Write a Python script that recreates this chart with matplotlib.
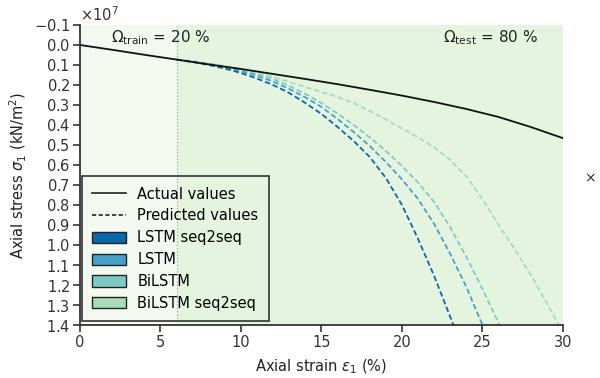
import numpy as np
import matplotlib
matplotlib.use("Agg")
import matplotlib.pyplot as plt
from matplotlib.lines import Line2D
from matplotlib.patches import Patch
from matplotlib.ticker import ScalarFormatter

plt.rcParams['font.family'] = ['DejaVu Sans']
plt.rcParams['mathtext.fontset'] = 'dejavusans'

# ---- data (stress in kN/m^2, x1e7) ----
strain_actual = [0, 2, 4, 6, 8, 10, 12, 14, 16, 18, 20, 22, 24, 26, 28, 30]
stress_actual = [0.0, 0.024, 0.049, 0.073, 0.097, 0.120, 0.145, 0.170, 0.196,
                 0.224, 0.253, 0.285, 0.320, 0.360, 0.410, 0.466]

strain_pred = [6, 7, 8, 9, 10, 11, 12, 13, 14, 15, 16, 17, 18, 19, 20, 21, 22,
               23, 24, 25, 26, 27, 28, 29, 30]
lstm_s2s = [0.073, 0.085, 0.100, 0.118, 0.140, 0.168, 0.200, 0.240, 0.290,
            0.345, 0.410, 0.480, 0.560, 0.665, 0.800, 0.970, 1.155, 1.360, 1.570]
lstm = [0.073, 0.083, 0.096, 0.112, 0.131, 0.155, 0.183, 0.220, 0.262, 0.310,
        0.370, 0.435, 0.505, 0.585, 0.672, 0.770, 0.895, 1.045, 1.210, 1.400, 1.600]
bilstm = [0.073, 0.082, 0.094, 0.108, 0.125, 0.146, 0.170, 0.205, 0.245, 0.290,
          0.343, 0.400, 0.462, 0.530, 0.605, 0.688, 0.785, 0.912, 1.060, 1.220,
          1.390, 1.570]
bilstm_s2s = [0.073, 0.082, 0.093, 0.105, 0.119, 0.138, 0.160, 0.185, 0.210,
              0.235, 0.260, 0.290, 0.330, 0.372, 0.418, 0.462, 0.512, 0.575,
              0.658, 0.770, 0.900, 1.020, 1.150, 1.290, 1.440]

model_names = ['LSTM seq2seq', 'LSTM', 'BiLSTM', 'BiLSTM seq2seq']
model_values = [lstm_s2s, lstm, bilstm, bilstm_s2s]
model_colors = ['#0868ac', '#43a2ca', '#7bccc4', '#a8ddb5']

train_end = 6
x_max = 30
scale = 1e7

fig = plt.figure(figsize=(6.0, 3.78), dpi=100)
ax = fig.add_axes([0.1333, 0.1402, 0.805, 0.7937])

ax.axvspan(0, train_end, color='#f4f9f0', zorder=0, lw=0)
ax.axvspan(train_end, x_max, color='#e4f4df', zorder=0, lw=0)
ax.axvline(train_end, color='#aaaaaa', lw=0.9, ls=':', zorder=1)

for vals, col in zip(model_values[::-1], model_colors[::-1]):
    ax.plot(strain_pred[:len(vals)], np.array(vals) * scale, color=col, lw=1.3,
            dashes=(3, 1.6), zorder=2)
ax.plot(strain_actual, np.array(stress_actual) * scale, color='#111111', lw=1.3, zorder=3)

ax.set_xlim(0, x_max)
ax.set_ylim(1.4e7, -0.1e7)
ax.set_yticks(np.arange(-0.1, 1.41, 0.1) * scale)
ax.set_xticks([0, 5, 10, 15, 20, 25, 30])
fmt = ScalarFormatter(useMathText=True)
fmt.set_powerlimits((0, 0))
ax.yaxis.set_major_formatter(fmt)

for s in ['top', 'right']:
    ax.spines[s].set_visible(False)
for s in ['left', 'bottom']:
    ax.spines[s].set_color('#333333')
    ax.spines[s].set_linewidth(1.3)
ax.tick_params(colors='#333333', labelsize=10.5, width=1.2, length=5, pad=2)
ax.yaxis.get_offset_text().set_fontsize(10.5)
ax.yaxis.get_offset_text().set_color('#333333')

ax.set_xlabel(r'Axial strain $\varepsilon_1$ (%)', fontsize=10.5, color='#222222',
              labelpad=6)
ax.set_ylabel(r'Axial stress $\sigma_1$ (kN/m$^2$)', fontsize=10.5, color='#222222')

ax.text(5.0, -0.035e7, r'$\Omega_{\mathrm{train}}$ = 20 %', ha='center', va='center',
        fontsize=11, color='#222222')
ax.text(25.5, -0.035e7, r'$\Omega_{\mathrm{test}}$ = 80 %', ha='center', va='center',
        fontsize=11, color='#222222')

handles = [Line2D([], [], color='#222222', lw=1.2),
           Line2D([], [], color='#222222', lw=1.2, dashes=(2.5, 1.5))]
handles += [Patch(facecolor=c, edgecolor='#222222', lw=1.0) for c in model_colors]
labels = ['Actual values', 'Predicted values'] + model_names
leg = ax.legend(handles, labels, loc='lower left', bbox_to_anchor=(0.004, 0.013),
                borderaxespad=0, fancybox=False, fontsize=10.5, handlelength=2.3,
                handleheight=0.8, handletextpad=0.8, borderpad=0.7,
                labelspacing=0.47, framealpha=1)
leg.get_frame().set_facecolor('none')
leg.get_frame().set_edgecolor('#333333')
leg.get_frame().set_linewidth(1.2)

fig.text(590 / 600, 1 - 178 / 378, '×', ha='center', va='center', fontsize=10,
         color='#333333')

fig.savefig('out.png', dpi=100)
